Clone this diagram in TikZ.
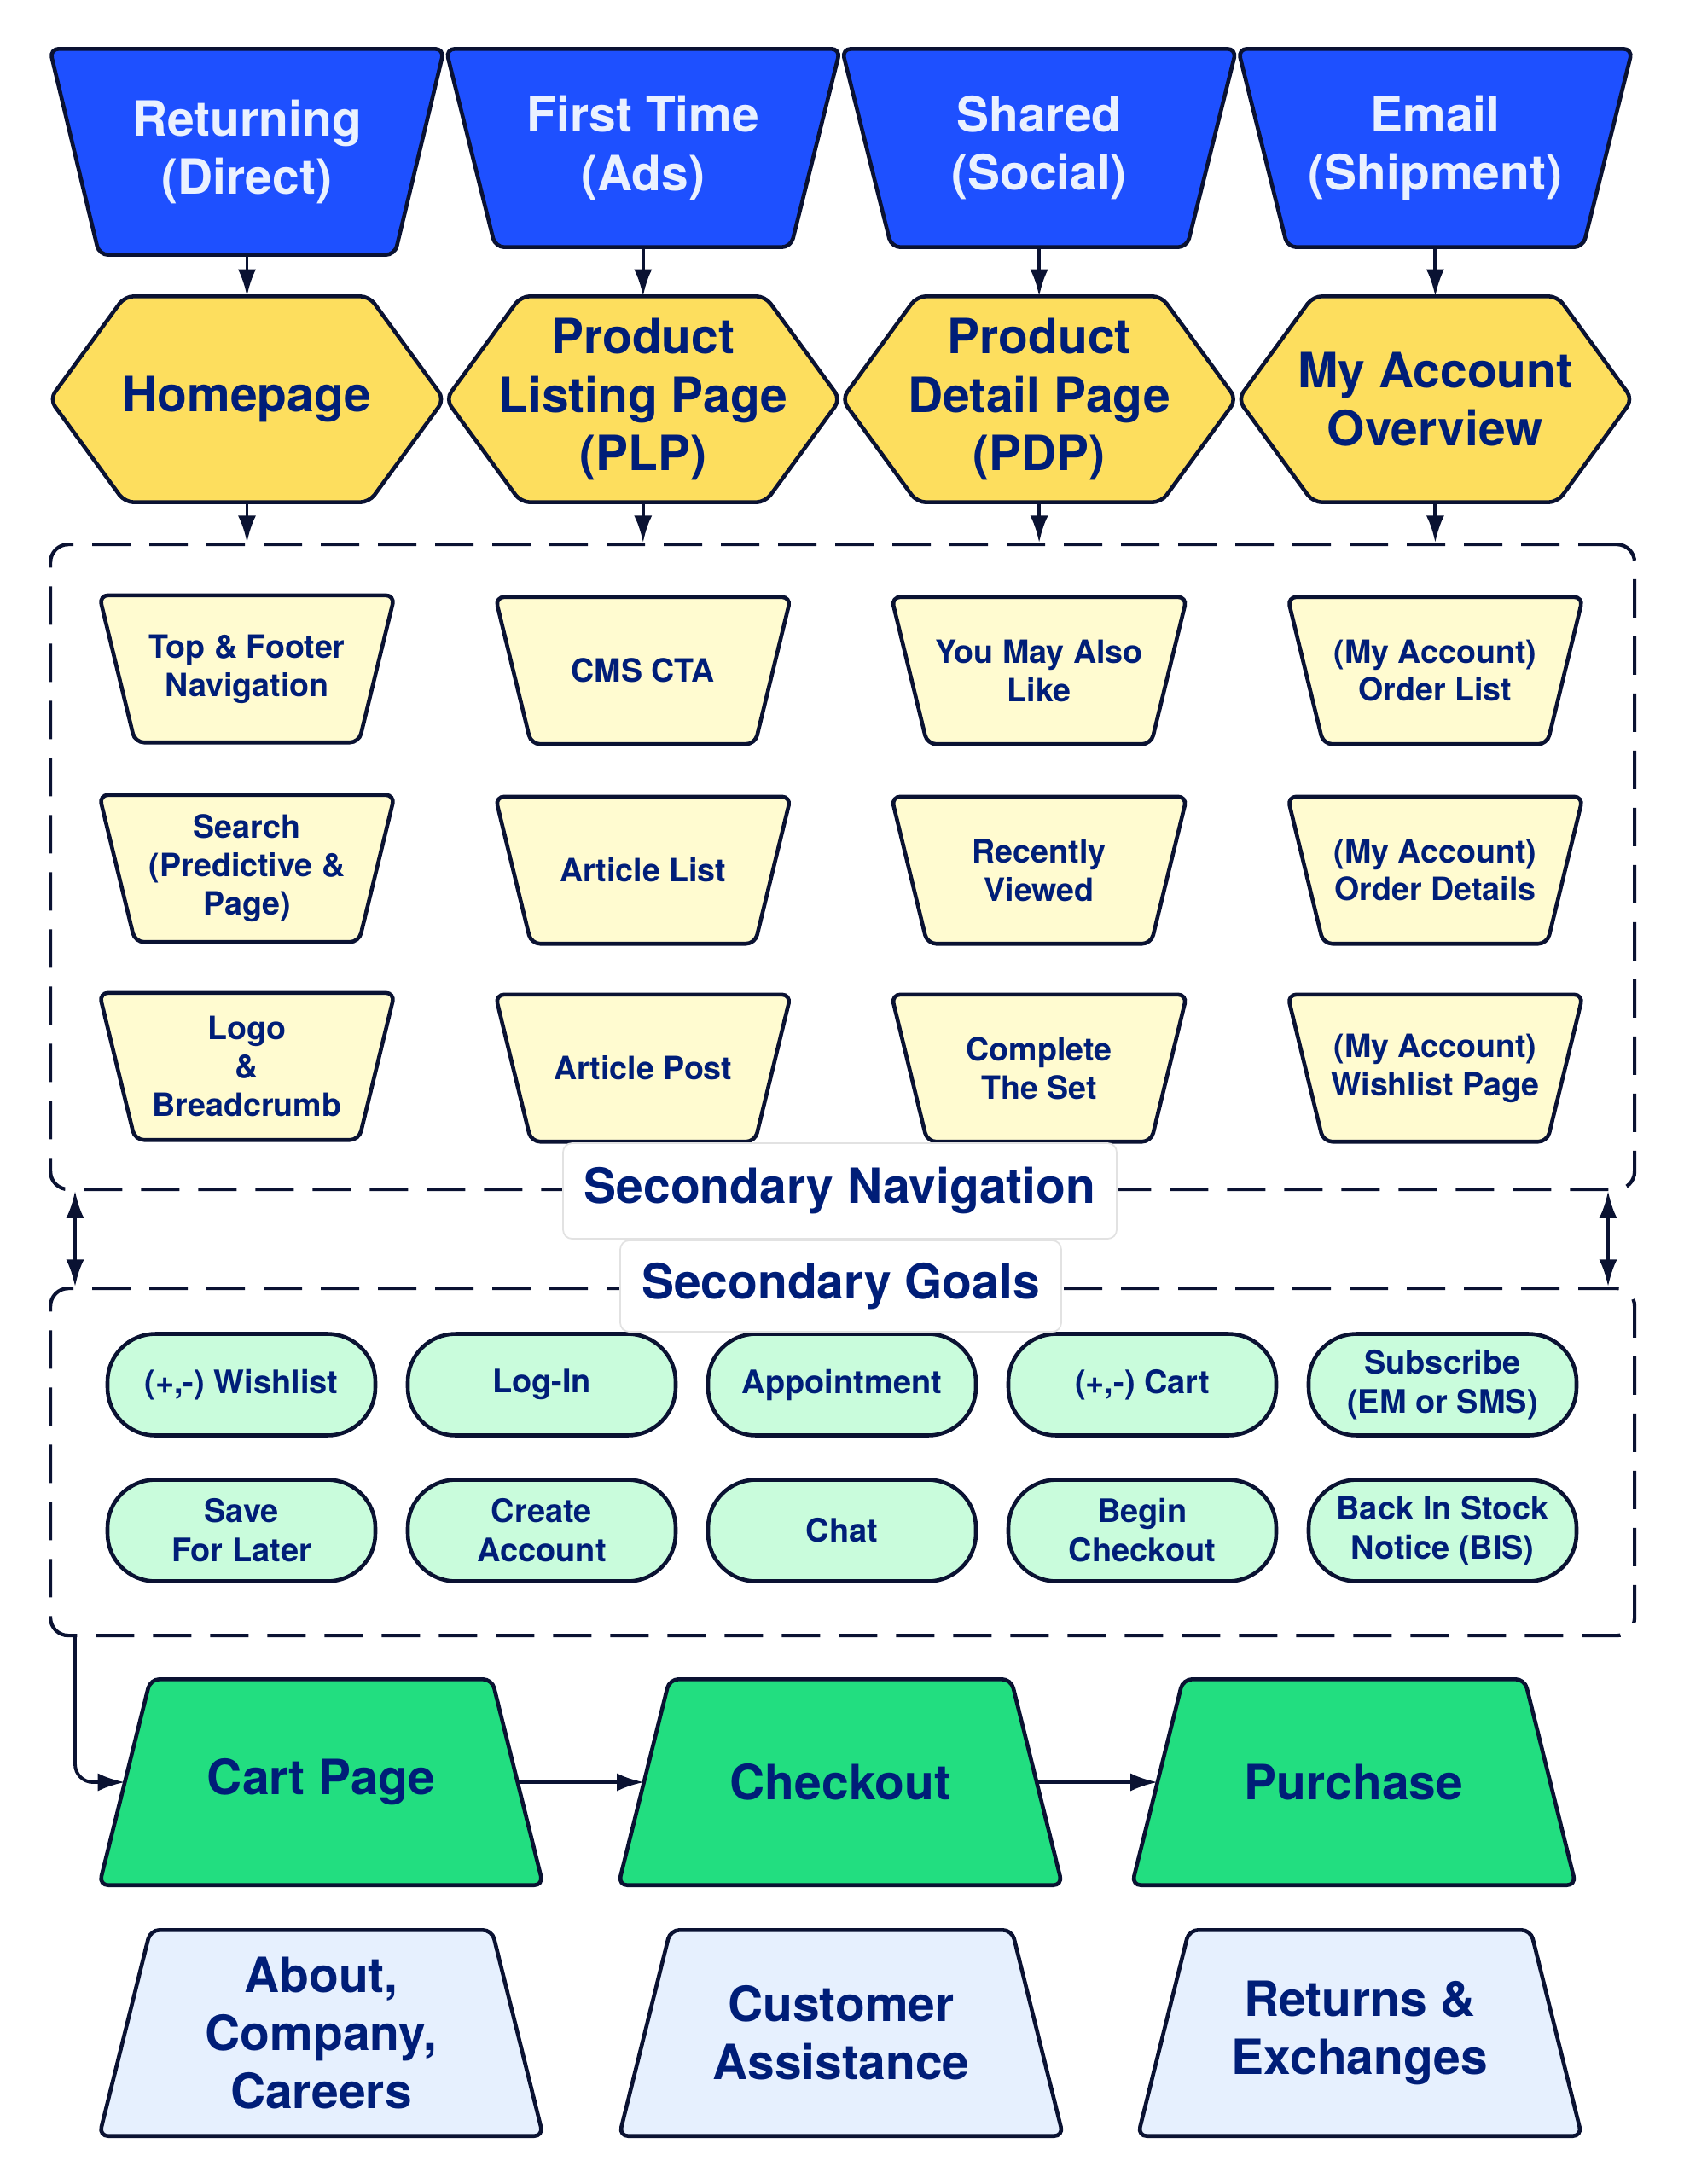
\documentclass[tikz,border=0pt]{standalone}
\usepackage{fontspec}
\setmainfont{TeX Gyre Heros}
\usetikzlibrary{arrows.meta}
\usetikzlibrary{calc,backgrounds}
\usepackage{xcolor}
\definecolor{entryblue}{HTML}{1E50FF}
\definecolor{entrytext}{HTML}{EAF1FF}
\definecolor{hexyellow}{HTML}{FDDE5E}
\definecolor{paleyellow}{HTML}{FFFBD0}
\definecolor{mintgreen}{HTML}{C9FCDC}
\definecolor{funnelgreen}{HTML}{22DE80}
\definecolor{paleblue}{HTML}{E6F0FE}
\definecolor{navytext}{HTML}{001E78}
\definecolor{outline}{HTML}{0A1232}
\definecolor{labelgray}{HTML}{E2E2E2}

\begin{document}
\begin{tikzpicture}[>={Latex[length=9pt, width=6pt]},
    bigtext/.style={font=\bfseries\fontsize{16.2}{19.4}\selectfont},
    shapeline/.style={draw=outline, line width=1.3pt, rounded corners=3pt},
    entry/.style={minimum width=4.03cm, inner sep=0pt, align=center, text=entrytext, bigtext},
    hexnode/.style={minimum width=4.61cm, minimum height=2.40cm, inner sep=0pt,
      align=center, text=navytext, bigtext},
    navitem/.style={minimum width=3.03cm, minimum height=1.71cm, inner sep=0pt,
      align=center, text=navytext, font=\bfseries\fontsize{10.7}{12.8}\selectfont},
    goal/.style={rectangle, rounded corners=16pt, draw=outline, line width=1.3pt,
      fill=mintgreen, text=navytext, minimum width=3.14cm, minimum height=1.19cm,
      align=center, font=\bfseries\fontsize{10.8}{13.1}\selectfont},
    funnel/.style={minimum width=4.59cm, minimum height=2.40cm, inner sep=0pt,
      align=center, text=navytext, bigtext},
    dashbox/.style={draw=outline, line width=1.2pt, dash pattern=on 0.45cm off 0.22cm,
      rounded corners=6pt, anchor=north west, inner sep=0pt},
    boxlabel/.style={draw=labelgray, line width=0.5pt, fill=white, rounded corners=3pt,
      text=navytext, inner sep=0pt, bigtext},
    conn/.style={draw=outline, line width=1.1pt}]
      \useasboundingbox (0, 0) rectangle (19.73, -25.60);

      \coordinate (toprow) at (0, -1.78);
      \coordinate (hexrow) at (0, -4.68);
      \coordinate (colstep) at (4.643, 0);
      \coordinate (leftrail) at (0.88, 0);
      \coordinate (rightrail) at (18.85, 0);

      % entry points
      \node [entry, minimum height=2.40cm, name=ret] at
      ($(toprow) + (2.895, 0)$) {Returning\\(Direct)};
      \node [entry, minimum height=2.31cm, name=first] at
      ($(toprow) + 1*(colstep) + (2.895, 0.045)$) {First Time\\(Ads)};
      \node [entry, minimum height=2.31cm, name=shared] at
      ($(toprow) + 2*(colstep) + (2.895, 0.045)$) {Shared\\(Social)};
      \node [entry, minimum height=2.31cm, name=email] at
      ($(toprow) + 3*(colstep) + (2.895, 0.045)$) {Email\\(Shipment)};

      % landing pages
      \node [hexnode, name=home] at ($(hexrow) + (2.895, 0)$) {Homepage};
      \node [hexnode, name=plp] at
      ($(hexrow) + 1*(colstep) + (2.895, 0)$) {Product\\Listing Page\\(PLP)};
      \node [hexnode, name=pdp] at
      ($(hexrow) + 2*(colstep) + (2.895, 0)$) {Product\\Detail Page\\(PDP)};
      \node [hexnode, name=acct] at
      ($(hexrow) + 3*(colstep) + (2.895, 0)$) {My Account\\Overview};

      % the two dashed groups
      \node [dashbox, name=navbox, minimum width=18.57cm, minimum height=7.56cm] at
      (0.57, -6.36) {};
      \node [dashbox, name=goalbox, minimum width=18.57cm, minimum height=4.07cm] at
      (0.57, -15.08) {};

      % secondary navigation
      \node [navitem, name=topnav] at (2.895, -7.84) {Top \& Footer\\Navigation};
      \node [navitem, name=search] at (2.895, -10.18) {Search\\(Predictive \&\\Page)};
      \node [navitem, name=logo] at (2.895, -12.50) {Logo\\\&\\Breadcrumb};

      \node [navitem, name=cms] at
      ($(colstep) + (2.895, -7.86)$) {CMS CTA};
      \node [navitem, name=artlist] at
      ($(colstep) + (2.895, -10.20)$) {Article List};
      \node [navitem, name=artpost] at
      ($(colstep) + (2.895, -12.52)$) {Article Post};

      \node [navitem, name=alsolike] at
      ($2*(colstep) + (2.895, -7.86)$) {You May Also\\Like};
      \node [navitem, name=recent] at
      ($2*(colstep) + (2.895, -10.20)$) {Recently\\Viewed};
      \node [navitem, name=fullset] at
      ($2*(colstep) + (2.895, -12.52)$) {Complete\\The Set};

      \node [navitem, name=orders] at
      ($3*(colstep) + (2.895, -7.86)$) {(My Account)\\Order List};
      \node [navitem, name=orderinfo] at
      ($3*(colstep) + (2.895, -10.20)$) {(My Account)\\Order Details};
      \node [navitem, name=wishpage] at
      ($3*(colstep) + (2.895, -12.52)$) {(My Account)\\Wishlist Page};

      % secondary goals
      \node [goal, name=wish] at (2.83, -16.23) {(+,-) Wishlist};
      \node [goal, name=login] at (6.35, -16.23) {Log-In};
      \node [goal, name=appt] at (9.87, -16.23) {Appointment};
      \node [goal, name=addcart] at (13.39, -16.23) {(+,-) Cart};
      \node [goal, name=subscribe] at (16.91, -16.23) {Subscribe\\(EM or SMS)};

      \node [goal, name=later] at (2.83, -17.94) {Save\\For Later};
      \node [goal, name=create] at (6.35, -17.94) {Create\\Account};
      \node [goal, name=chat] at (9.87, -17.94) {Chat};
      \node [goal, name=begin] at (13.39, -17.94) {Begin\\Checkout};
      \node [goal, name=bis] at (16.91, -17.94) {Back In Stock\\Notice (BIS)};

      \node [boxlabel, name=navlabel, minimum width=6.49cm, minimum height=1.12cm] at
      (9.845, -13.96) {Secondary Navigation};
      \node [boxlabel, name=goallabel, minimum width=5.17cm, minimum height=1.07cm] at
      (9.855, -15.075) {Secondary Goals};

      % conversion path
      \node [funnel, name=cart] at (3.765, -20.89) {Cart Page};
      \node [funnel, name=checkout] at (9.85, -20.89) {Checkout};
      \node [funnel, name=purchase] at (15.87, -20.89) {Purchase};

      \node [funnel, name=about] at (3.765, -23.83) {About,\\Company,\\Careers};
      \node [funnel, name=help] at (9.86, -23.83) {Customer\\Assistance};
      \node [funnel, name=returns] at (15.94, -23.83) {Returns \&\\Exchanges};

      % outlines behind the texts
      \begin{scope}[on background layer]
      \draw [shapeline, fill=entryblue] ($(ret.north west) + (-0.29, 0)$) --
      ($(ret.north east) + (0.29, 0)$) -- ($(ret.south east) + (-0.29, 0)$) --
      ($(ret.south west) + (0.29, 0)$) -- cycle;
      \draw [shapeline, fill=entryblue] ($(first.north west) + (-0.29, 0)$) --
      ($(first.north east) + (0.29, 0)$) -- ($(first.south east) + (-0.29, 0)$) --
      ($(first.south west) + (0.29, 0)$) -- cycle;
      \draw [shapeline, fill=entryblue] ($(shared.north west) + (-0.29, 0)$) --
      ($(shared.north east) + (0.29, 0)$) -- ($(shared.south east) + (-0.29, 0)$) --
      ($(shared.south west) + (0.29, 0)$) -- cycle;
      \draw [shapeline, fill=entryblue] ($(email.north west) + (-0.29, 0)$) --
      ($(email.north east) + (0.29, 0)$) -- ($(email.south east) + (-0.29, 0)$) --
      ($(email.south west) + (0.29, 0)$) -- cycle;

      \draw [shapeline, fill=hexyellow] (home.west) -- ($(home.north west) + (0.88, 0)$) --
      ($(home.north east) + (-0.88, 0)$) -- (home.east) --
      ($(home.south east) + (-0.88, 0)$) -- ($(home.south west) + (0.88, 0)$) -- cycle;
      \draw [shapeline, fill=hexyellow] (plp.west) -- ($(plp.north west) + (0.88, 0)$) --
      ($(plp.north east) + (-0.88, 0)$) -- (plp.east) --
      ($(plp.south east) + (-0.88, 0)$) -- ($(plp.south west) + (0.88, 0)$) -- cycle;
      \draw [shapeline, fill=hexyellow] (pdp.west) -- ($(pdp.north west) + (0.88, 0)$) --
      ($(pdp.north east) + (-0.88, 0)$) -- (pdp.east) --
      ($(pdp.south east) + (-0.88, 0)$) -- ($(pdp.south west) + (0.88, 0)$) -- cycle;
      \draw [shapeline, fill=hexyellow] (acct.west) -- ($(acct.north west) + (0.88, 0)$) --
      ($(acct.north east) + (-0.88, 0)$) -- (acct.east) --
      ($(acct.south east) + (-0.88, 0)$) -- ($(acct.south west) + (0.88, 0)$) -- cycle;

      \draw [shapeline, fill=paleyellow] ($(topnav.north west) + (-0.21, 0)$) --
      ($(topnav.north east) + (0.21, 0)$) -- ($(topnav.south east) + (-0.21, 0)$) --
      ($(topnav.south west) + (0.21, 0)$) -- cycle;
      \draw [shapeline, fill=paleyellow] ($(search.north west) + (-0.21, 0)$) --
      ($(search.north east) + (0.21, 0)$) -- ($(search.south east) + (-0.21, 0)$) --
      ($(search.south west) + (0.21, 0)$) -- cycle;
      \draw [shapeline, fill=paleyellow] ($(logo.north west) + (-0.21, 0)$) --
      ($(logo.north east) + (0.21, 0)$) -- ($(logo.south east) + (-0.21, 0)$) --
      ($(logo.south west) + (0.21, 0)$) -- cycle;
      \draw [shapeline, fill=paleyellow] ($(cms.north west) + (-0.21, 0)$) --
      ($(cms.north east) + (0.21, 0)$) -- ($(cms.south east) + (-0.21, 0)$) --
      ($(cms.south west) + (0.21, 0)$) -- cycle;
      \draw [shapeline, fill=paleyellow] ($(artlist.north west) + (-0.21, 0)$) --
      ($(artlist.north east) + (0.21, 0)$) -- ($(artlist.south east) + (-0.21, 0)$) --
      ($(artlist.south west) + (0.21, 0)$) -- cycle;
      \draw [shapeline, fill=paleyellow] ($(artpost.north west) + (-0.21, 0)$) --
      ($(artpost.north east) + (0.21, 0)$) -- ($(artpost.south east) + (-0.21, 0)$) --
      ($(artpost.south west) + (0.21, 0)$) -- cycle;
      \draw [shapeline, fill=paleyellow] ($(alsolike.north west) + (-0.21, 0)$) --
      ($(alsolike.north east) + (0.21, 0)$) -- ($(alsolike.south east) + (-0.21, 0)$) --
      ($(alsolike.south west) + (0.21, 0)$) -- cycle;
      \draw [shapeline, fill=paleyellow] ($(recent.north west) + (-0.21, 0)$) --
      ($(recent.north east) + (0.21, 0)$) -- ($(recent.south east) + (-0.21, 0)$) --
      ($(recent.south west) + (0.21, 0)$) -- cycle;
      \draw [shapeline, fill=paleyellow] ($(fullset.north west) + (-0.21, 0)$) --
      ($(fullset.north east) + (0.21, 0)$) -- ($(fullset.south east) + (-0.21, 0)$) --
      ($(fullset.south west) + (0.21, 0)$) -- cycle;
      \draw [shapeline, fill=paleyellow] ($(orders.north west) + (-0.21, 0)$) --
      ($(orders.north east) + (0.21, 0)$) -- ($(orders.south east) + (-0.21, 0)$) --
      ($(orders.south west) + (0.21, 0)$) -- cycle;
      \draw [shapeline, fill=paleyellow] ($(orderinfo.north west) + (-0.21, 0)$) --
      ($(orderinfo.north east) + (0.21, 0)$) -- ($(orderinfo.south east) + (-0.21, 0)$) --
      ($(orderinfo.south west) + (0.21, 0)$) -- cycle;
      \draw [shapeline, fill=paleyellow] ($(wishpage.north west) + (-0.21, 0)$) --
      ($(wishpage.north east) + (0.21, 0)$) -- ($(wishpage.south east) + (-0.21, 0)$) --
      ($(wishpage.south west) + (0.21, 0)$) -- cycle;

      \draw [shapeline, fill=funnelgreen] ($(cart.south west) + (-0.30, 0)$) --
      ($(cart.north west) + (0.30, 0)$) -- ($(cart.north east) + (-0.30, 0)$) --
      ($(cart.south east) + (0.30, 0)$) -- cycle;
      \draw [shapeline, fill=funnelgreen] ($(checkout.south west) + (-0.30, 0)$) --
      ($(checkout.north west) + (0.30, 0)$) -- ($(checkout.north east) + (-0.30, 0)$) --
      ($(checkout.south east) + (0.30, 0)$) -- cycle;
      \draw [shapeline, fill=funnelgreen] ($(purchase.south west) + (-0.30, 0)$) --
      ($(purchase.north west) + (0.30, 0)$) -- ($(purchase.north east) + (-0.30, 0)$) --
      ($(purchase.south east) + (0.30, 0)$) -- cycle;
      \draw [shapeline, fill=paleblue] ($(about.south west) + (-0.30, 0)$) --
      ($(about.north west) + (0.30, 0)$) -- ($(about.north east) + (-0.30, 0)$) --
      ($(about.south east) + (0.30, 0)$) -- cycle;
      \draw [shapeline, fill=paleblue] ($(help.south west) + (-0.30, 0)$) --
      ($(help.north west) + (0.30, 0)$) -- ($(help.north east) + (-0.30, 0)$) --
      ($(help.south east) + (0.30, 0)$) -- cycle;
      \draw [shapeline, fill=paleblue] ($(returns.south west) + (-0.30, 0)$) --
      ($(returns.north west) + (0.30, 0)$) -- ($(returns.north east) + (-0.30, 0)$) --
      ($(returns.south east) + (0.30, 0)$) -- cycle;
      \end{scope}

      \draw [conn, ->] (ret) -- (home);
      \draw [conn, ->] (first) -- (plp);
      \draw [conn, ->] (shared) -- (pdp);
      \draw [conn, ->] (email) -- (acct);

      \draw [conn, ->] (home) -- (home |- navbox.north);
      \draw [conn, ->] (plp) -- (plp |- navbox.north);
      \draw [conn, ->] (pdp) -- (pdp |- navbox.north);
      \draw [conn, ->] (acct) -- (acct |- navbox.north);

      \draw [conn, <->] (leftrail |- navbox.south) -- (leftrail |- goalbox.north);
      \draw [conn, <->] (rightrail |- navbox.south) -- (rightrail |- goalbox.north);

      \draw [conn, ->, rounded corners=6pt] (leftrail |- goalbox.south) |- (cart);
      \draw [conn, ->] (cart) -- (checkout);
      \draw [conn, ->] (checkout) -- (purchase);
    \end{tikzpicture}
\end{document}
